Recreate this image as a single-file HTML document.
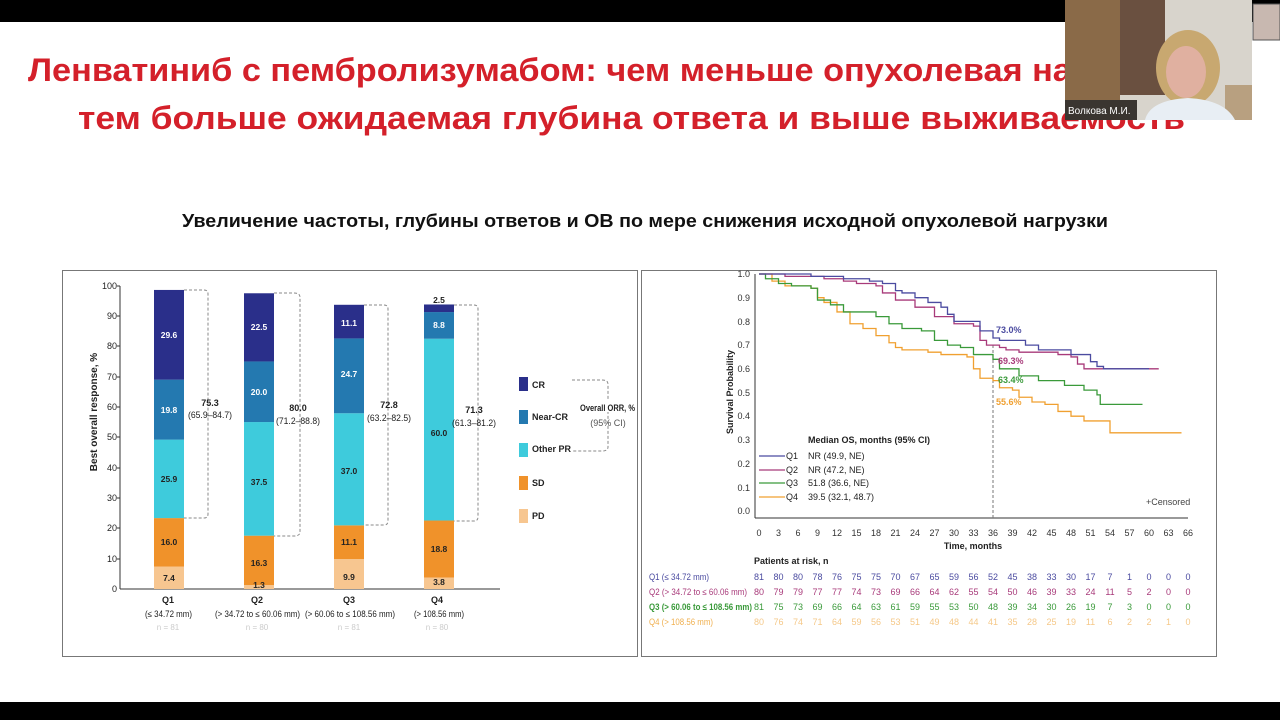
<!DOCTYPE html>
<html><head><meta charset="utf-8"><style>
html,body{margin:0;padding:0;background:#fff;}
svg{display:block;font-family:"Liberation Sans","DejaVu Sans",sans-serif;}
</style></head><body>
<svg width="1280" height="720" viewBox="0 0 1280 720" xmlns="http://www.w3.org/2000/svg">
<rect width="1280" height="720" fill="#fff"/>
<rect x="0" y="0" width="1280" height="22" fill="#000"/>
<rect x="0" y="702" width="1280" height="18" fill="#000"/>

<text x="28" y="81" font-size="32" font-weight="bold" fill="#d4202a" textLength="1160" lengthAdjust="spacingAndGlyphs">Ленватиниб с пембролизумабом: чем меньше опухолевая нагрузка,</text>
<text x="78" y="129" font-size="32" font-weight="bold" fill="#d4202a" textLength="1107" lengthAdjust="spacingAndGlyphs">тем больше ожидаемая глубина ответа и выше выживаемость</text>

<rect x="1065" y="0" width="187" height="120" fill="#d8d4cc"/>
<rect x="1065" y="0" width="55" height="120" fill="#8a6a48"/>
<rect x="1120" y="0" width="45" height="95" fill="#6a5040"/>
<rect x="1252" y="0" width="28" height="22" fill="#000"/>
<rect x="1253" y="4" width="27" height="36" fill="#c8b8b0" stroke="#555"/>
<rect x="1225" y="85" width="27" height="35" fill="#b8a080"/>
<ellipse cx="1188" cy="68" rx="32" ry="38" fill="#c8a870"/>
<ellipse cx="1186" cy="72" rx="20" ry="26" fill="#e0b0a0"/>
<path d="M1145,120 Q1150,100 1188,98 Q1225,100 1235,120 Z" fill="#e8eef4"/>
<rect x="1065" y="100" width="72" height="20" fill="#3a3530"/>
<text x="1068" y="114" font-size="10" fill="#fff">Волкова М.И.</text>

<text x="182" y="227" font-size="18" font-weight="bold" fill="#111" textLength="926" lengthAdjust="spacingAndGlyphs">Увеличение частоты, глубины ответов и ОВ по мере снижения исходной опухолевой нагрузки</text>

<rect x="62.5" y="270.5" width="575" height="386" fill="#fff" stroke="#777"/>
<rect x="641.5" y="270.5" width="575" height="386" fill="#fff" stroke="#777"/>

<!-- LEFT CHART -->
<g font-size="9" fill="#222" text-anchor="end">
<text x="117" y="289">100</text><text x="117" y="319">90</text><text x="117" y="349">80</text>
<text x="117" y="380">70</text><text x="117" y="410">60</text><text x="117" y="440">50</text>
<text x="117" y="471">40</text><text x="117" y="501">30</text><text x="117" y="531">20</text>
<text x="117" y="562">10</text><text x="117" y="592">0</text>
</g>
<line x1="120" y1="286" x2="120" y2="589" stroke="#333"/>
<line x1="120" y1="589" x2="500" y2="589" stroke="#333"/>
<g stroke="#333"><line x1="117" y1="286" x2="120" y2="286"/><line x1="117" y1="316" x2="120" y2="316"/><line x1="117" y1="346" x2="120" y2="346"/><line x1="117" y1="377" x2="120" y2="377"/><line x1="117" y1="407" x2="120" y2="407"/><line x1="117" y1="437" x2="120" y2="437"/><line x1="117" y1="468" x2="120" y2="468"/><line x1="117" y1="498" x2="120" y2="498"/><line x1="117" y1="528" x2="120" y2="528"/><line x1="117" y1="559" x2="120" y2="559"/></g>
<text transform="translate(97,412) rotate(-90)" font-size="10" font-weight="bold" text-anchor="middle" fill="#222">Best overall response, %</text>

<g transform="translate(0,589) scale(1,-3.03)">
<rect x="154" y="0" width="30" height="7.4" fill="#f7c690"/>
<rect x="154" y="7.4" width="30" height="16" fill="#f0922a"/>
<rect x="154" y="23.4" width="30" height="25.9" fill="#3ecbdc"/>
<rect x="154" y="49.3" width="30" height="19.8" fill="#2479b0"/>
<rect x="154" y="69.1" width="30" height="29.6" fill="#2a2f8a"/>
<rect x="244" y="0" width="30" height="1.3" fill="#f7c690"/>
<rect x="244" y="1.3" width="30" height="16.3" fill="#f0922a"/>
<rect x="244" y="17.6" width="30" height="37.5" fill="#3ecbdc"/>
<rect x="244" y="55.1" width="30" height="20" fill="#2479b0"/>
<rect x="244" y="75.1" width="30" height="22.5" fill="#2a2f8a"/>
<rect x="334" y="0" width="30" height="9.9" fill="#f7c690"/>
<rect x="334" y="9.9" width="30" height="11.1" fill="#f0922a"/>
<rect x="334" y="21" width="30" height="37" fill="#3ecbdc"/>
<rect x="334" y="58" width="30" height="24.7" fill="#2479b0"/>
<rect x="334" y="82.7" width="30" height="11.1" fill="#2a2f8a"/>
<rect x="424" y="0" width="30" height="3.8" fill="#f7c690"/>
<rect x="424" y="3.8" width="30" height="18.8" fill="#f0922a"/>
<rect x="424" y="22.6" width="30" height="60" fill="#3ecbdc"/>
<rect x="424" y="82.6" width="30" height="8.8" fill="#2479b0"/>
<rect x="424" y="91.4" width="30" height="2.5" fill="#2a2f8a"/>
</g>
<g font-size="8.5" font-weight="bold" text-anchor="middle">
<text x="169" y="581" fill="#222">7.4</text><text x="169" y="545" fill="#222">16.0</text><text x="169" y="482" fill="#222">25.9</text><text x="169" y="413" fill="#fff">19.8</text><text x="169" y="338" fill="#fff">29.6</text>
<text x="259" y="588" fill="#222">1.3</text><text x="259" y="566" fill="#222">16.3</text><text x="259" y="485" fill="#222">37.5</text><text x="259" y="395" fill="#fff">20.0</text><text x="259" y="330" fill="#fff">22.5</text>
<text x="349" y="580" fill="#222">9.9</text><text x="349" y="545" fill="#222">11.1</text><text x="349" y="474" fill="#222">37.0</text><text x="349" y="377" fill="#fff">24.7</text><text x="349" y="326" fill="#fff">11.1</text>
<text x="439" y="585" fill="#222">3.8</text><text x="439" y="552" fill="#222">18.8</text><text x="439" y="436" fill="#222">60.0</text><text x="439" y="328" fill="#fff">8.8</text><text x="439" y="303" fill="#222">2.5</text>
</g>
<g fill="none" stroke="#888" stroke-dasharray="3,2">
<path d="M184,290 H204 Q208,290 208,294 V514 Q208,518 204,518 H184"/>
<path d="M274,293 H294 Q300,293 300,297 V532 Q300,536 294,536 H274"/>
<path d="M364,305 H384 Q388,305 388,309 V521 Q388,525 384,525 H364"/>
<path d="M454,305 H474 Q478,305 478,309 V517 Q478,521 474,521 H454"/>
<path d="M572,380 H602 Q608,380 608,384 V447 Q608,451 602,451 H572"/>
</g>
<g font-size="9" text-anchor="middle" fill="#222">
<text x="210" y="406" font-weight="bold">75.3</text><text x="210" y="418" textLength="44" lengthAdjust="spacingAndGlyphs">(65.9–84.7)</text>
<text x="298" y="411" font-weight="bold">80.0</text><text x="298" y="424" textLength="44" lengthAdjust="spacingAndGlyphs">(71.2–88.8)</text>
<text x="389" y="408" font-weight="bold">72.8</text><text x="389" y="421" textLength="44" lengthAdjust="spacingAndGlyphs">(63.2–82.5)</text>
<text x="474" y="413" font-weight="bold">71.3</text><text x="474" y="426" textLength="44" lengthAdjust="spacingAndGlyphs">(61.3–81.2)</text>
</g>
<rect x="519" y="377" width="9" height="14" fill="#2a2f8a"/>
<rect x="519" y="410" width="9" height="14" fill="#2479b0"/>
<rect x="519" y="443" width="9" height="14" fill="#3ecbdc"/>
<rect x="519" y="476" width="9" height="14" fill="#f0922a"/>
<rect x="519" y="509" width="9" height="14" fill="#f7c690"/>
<g font-size="9" font-weight="bold" fill="#222">
<text x="532" y="388">CR</text><text x="532" y="420">Near-CR</text><text x="532" y="452">Other PR</text><text x="532" y="486">SD</text><text x="532" y="519">PD</text>
</g>
<rect x="578" y="400" width="58" height="12" fill="#fff"/>
<text x="580" y="411" font-size="9" font-weight="bold" fill="#222" textLength="55" lengthAdjust="spacingAndGlyphs">Overall ORR, %</text>
<text x="608" y="426" font-size="9" text-anchor="middle" fill="#555">(95% CI)</text>
<g font-size="9" fill="#222">
<text x="168" y="603" font-weight="bold" text-anchor="middle">Q1</text><text x="145" y="617" textLength="47" lengthAdjust="spacingAndGlyphs">(≤ 34.72 mm)</text>
<text x="257" y="603" font-weight="bold" text-anchor="middle">Q2</text><text x="215" y="617" textLength="85" lengthAdjust="spacingAndGlyphs">(&gt; 34.72 to ≤ 60.06 mm)</text>
<text x="349" y="603" font-weight="bold" text-anchor="middle">Q3</text><text x="305" y="617" textLength="90" lengthAdjust="spacingAndGlyphs">(&gt; 60.06 to ≤ 108.56 mm)</text>
<text x="437" y="603" font-weight="bold" text-anchor="middle">Q4</text><text x="414" y="617" textLength="50" lengthAdjust="spacingAndGlyphs">(&gt; 108.56 mm)</text>
</g>
<g font-size="8" text-anchor="middle" fill="#ccc">
<text x="168" y="630">n = 81</text><text x="257" y="630">n = 80</text><text x="349" y="630">n = 81</text><text x="437" y="630">n = 80</text>
</g>

<!-- RIGHT CHART -->
<g font-size="9" fill="#333" text-anchor="end">
<text x="750" y="277">1.0</text><text x="750" y="301">0.9</text><text x="750" y="325">0.8</text><text x="750" y="348">0.7</text>
<text x="750" y="372">0.6</text><text x="750" y="396">0.5</text><text x="750" y="419">0.4</text><text x="750" y="443">0.3</text>
<text x="750" y="467">0.2</text><text x="750" y="491">0.1</text><text x="750" y="514">0.0</text>
</g>
<line x1="755" y1="274" x2="755" y2="518" stroke="#333"/>
<line x1="755" y1="518" x2="1188" y2="518" stroke="#333"/>
<text transform="translate(733,392) rotate(-90)" font-size="9" font-weight="bold" text-anchor="middle" fill="#222">Survival Probability</text>
<g font-size="9" fill="#333" text-anchor="middle">
<text x="759" y="536">0</text><text x="778.5" y="536">3</text><text x="798" y="536">6</text><text x="817.5" y="536">9</text><text x="837" y="536">12</text><text x="856.5" y="536">15</text><text x="876" y="536">18</text><text x="895.5" y="536">21</text><text x="915" y="536">24</text><text x="934.5" y="536">27</text><text x="954" y="536">30</text><text x="973.5" y="536">33</text><text x="993" y="536">36</text><text x="1012.5" y="536">39</text><text x="1032" y="536">42</text><text x="1051.5" y="536">45</text><text x="1071" y="536">48</text><text x="1090.5" y="536">51</text><text x="1110" y="536">54</text><text x="1129.5" y="536">57</text><text x="1149" y="536">60</text><text x="1168.5" y="536">63</text><text x="1188" y="536">66</text>
</g>
<text x="973" y="549" font-size="9" font-weight="bold" text-anchor="middle" fill="#222">Time, months</text>
<line x1="993" y1="345" x2="993" y2="518" stroke="#777" stroke-dasharray="3,2"/>

<g transform="translate(759,511) scale(6.5,-237)" fill="none" stroke-width="1.3">
<path vector-effect="non-scaling-stroke" stroke="#f0a030" d="M0 1 H2 V0.97 H4 V0.95 H8 V0.94 H9 V0.90 H10 V0.88 H12 V0.84 H14 V0.79 H16 V0.77 H18 V0.74 H20 V0.71 H21 V0.69 H22 V0.68 H25 V0.68 H26 V0.67 H28 V0.66 H32 V0.65 H33 V0.60 H34 V0.56 H36 V0.55 H37 V0.52 H39 V0.51 H40 V0.48 H42 V0.46 H44 V0.45 H46 V0.42 H48 V0.40 H50 V0.38 H54 V0.33 H65"/>
<path vector-effect="non-scaling-stroke" stroke="#3a9a3a" d="M0 1 H1 V0.98 H3 V0.96 H5 V0.95 H8 V0.94 H9 V0.89 H11 V0.87 H13 V0.84 H18 V0.82 H20 V0.79 H22 V0.77 H25 V0.76 H27 V0.72 H29 V0.70 H31 V0.69 H33 V0.66 H36 V0.64 H37 V0.60 H40 V0.57 H43 V0.55 H47 V0.53 H50 V0.51 H52 V0.49 H52.5 V0.45 H59"/>
<path vector-effect="non-scaling-stroke" stroke="#a83a7a" d="M0 1 H4 V0.99 H10 V0.98 H13 V0.97 H15 V0.96 H18 V0.95 H19 V0.92 H21 V0.89 H24 V0.86 H27 V0.82 H30 V0.79 H33 V0.78 H34 V0.72 H35 V0.70 H37 V0.69 H38 V0.68 H40 V0.67 H46 V0.66 H48 V0.65 H49 V0.62 H50 V0.60 H61.5"/>
<path vector-effect="non-scaling-stroke" stroke="#4b4ba0" d="M0 1 H8 V0.99 H13 V0.98 H17 V0.97 H19 V0.96 H21 V0.93 H22 V0.92 H24 V0.90 H26 V0.88 H28 V0.86 H29 V0.83 H30 V0.80 H34 V0.76 H36 V0.73 H37 V0.72 H41 V0.70 H43 V0.68 H48 V0.66 H51 V0.63 H52 V0.61 H53 V0.60 H60"/>
</g>
<g font-size="9" font-weight="bold">
<text x="996" y="333" fill="#4b4ba0">73.0%</text>
<text x="998" y="364" fill="#a83a7a">69.3%</text>
<text x="998" y="383" fill="#3a9a3a">63.4%</text>
<text x="996" y="405" fill="#f0a030">55.6%</text>
</g>
<text x="808" y="443" font-size="9" font-weight="bold" fill="#222">Median OS, months (95% CI)</text>
<g stroke-width="1.3"><line x1="759" y1="456" x2="785" y2="456" stroke="#4b4ba0"/><line x1="759" y1="470" x2="785" y2="470" stroke="#a83a7a"/><line x1="759" y1="483" x2="785" y2="483" stroke="#3a9a3a"/><line x1="759" y1="497" x2="785" y2="497" stroke="#f0a030"/></g>
<g font-size="9" fill="#222">
<text x="786" y="459">Q1</text><text x="808" y="459">NR (49.9, NE)</text>
<text x="786" y="473">Q2</text><text x="808" y="473">NR (47.2, NE)</text>
<text x="786" y="486">Q3</text><text x="808" y="486">51.8 (36.6, NE)</text>
<text x="786" y="500">Q4</text><text x="808" y="500">39.5 (32.1, 48.7)</text>
<text x="1146" y="505" fill="#444">+Censored</text>
<text x="754" y="564" font-weight="bold">Patients at risk, n</text>
</g>
<g font-size="9" text-anchor="middle">
<text x="649" y="580" text-anchor="start" fill="#4b4ba0" textLength="60" lengthAdjust="spacingAndGlyphs">Q1 (≤ 34.72 mm)</text>
<text x="649" y="595" text-anchor="start" fill="#a83a7a" textLength="98" lengthAdjust="spacingAndGlyphs">Q2 (&gt; 34.72 to ≤ 60.06 mm)</text>
<text x="649" y="610" text-anchor="start" fill="#3a9a3a" font-weight="bold" textLength="103" lengthAdjust="spacingAndGlyphs">Q3 (&gt; 60.06 to ≤ 108.56 mm)</text>
<text x="649" y="625" text-anchor="start" fill="#f0b050" textLength="64" lengthAdjust="spacingAndGlyphs">Q4 (&gt; 108.56 mm)</text>
<g fill="#4b4ba0"><text x="759" y="580">81</text><text x="778.5" y="580">80</text><text x="798" y="580">80</text><text x="817.5" y="580">78</text><text x="837" y="580">76</text><text x="856.5" y="580">75</text><text x="876" y="580">75</text><text x="895.5" y="580">70</text><text x="915" y="580">67</text><text x="934.5" y="580">65</text><text x="954" y="580">59</text><text x="973.5" y="580">56</text><text x="993" y="580">52</text><text x="1012.5" y="580">45</text><text x="1032" y="580">38</text><text x="1051.5" y="580">33</text><text x="1071" y="580">30</text><text x="1090.5" y="580">17</text><text x="1110" y="580">7</text><text x="1129.5" y="580">1</text><text x="1149" y="580">0</text><text x="1168.5" y="580">0</text><text x="1188" y="580">0</text></g>
<g fill="#a83a7a"><text x="759" y="595">80</text><text x="778.5" y="595">79</text><text x="798" y="595">79</text><text x="817.5" y="595">77</text><text x="837" y="595">77</text><text x="856.5" y="595">74</text><text x="876" y="595">73</text><text x="895.5" y="595">69</text><text x="915" y="595">66</text><text x="934.5" y="595">64</text><text x="954" y="595">62</text><text x="973.5" y="595">55</text><text x="993" y="595">54</text><text x="1012.5" y="595">50</text><text x="1032" y="595">46</text><text x="1051.5" y="595">39</text><text x="1071" y="595">33</text><text x="1090.5" y="595">24</text><text x="1110" y="595">11</text><text x="1129.5" y="595">5</text><text x="1149" y="595">2</text><text x="1168.5" y="595">0</text><text x="1188" y="595">0</text></g>
<g fill="#3a9a3a"><text x="759" y="610">81</text><text x="778.5" y="610">75</text><text x="798" y="610">73</text><text x="817.5" y="610">69</text><text x="837" y="610">66</text><text x="856.5" y="610">64</text><text x="876" y="610">63</text><text x="895.5" y="610">61</text><text x="915" y="610">59</text><text x="934.5" y="610">55</text><text x="954" y="610">53</text><text x="973.5" y="610">50</text><text x="993" y="610">48</text><text x="1012.5" y="610">39</text><text x="1032" y="610">34</text><text x="1051.5" y="610">30</text><text x="1071" y="610">26</text><text x="1090.5" y="610">19</text><text x="1110" y="610">7</text><text x="1129.5" y="610">3</text><text x="1149" y="610">0</text><text x="1168.5" y="610">0</text><text x="1188" y="610">0</text></g>
<g fill="#f5c888"><text x="759" y="625">80</text><text x="778.5" y="625">76</text><text x="798" y="625">74</text><text x="817.5" y="625">71</text><text x="837" y="625">64</text><text x="856.5" y="625">59</text><text x="876" y="625">56</text><text x="895.5" y="625">53</text><text x="915" y="625">51</text><text x="934.5" y="625">49</text><text x="954" y="625">48</text><text x="973.5" y="625">44</text><text x="993" y="625">41</text><text x="1012.5" y="625">35</text><text x="1032" y="625">28</text><text x="1051.5" y="625">25</text><text x="1071" y="625">19</text><text x="1090.5" y="625">11</text><text x="1110" y="625">6</text><text x="1129.5" y="625">2</text><text x="1149" y="625">2</text><text x="1168.5" y="625">1</text><text x="1188" y="625">0</text></g>
</g>
</svg>
</body></html>
